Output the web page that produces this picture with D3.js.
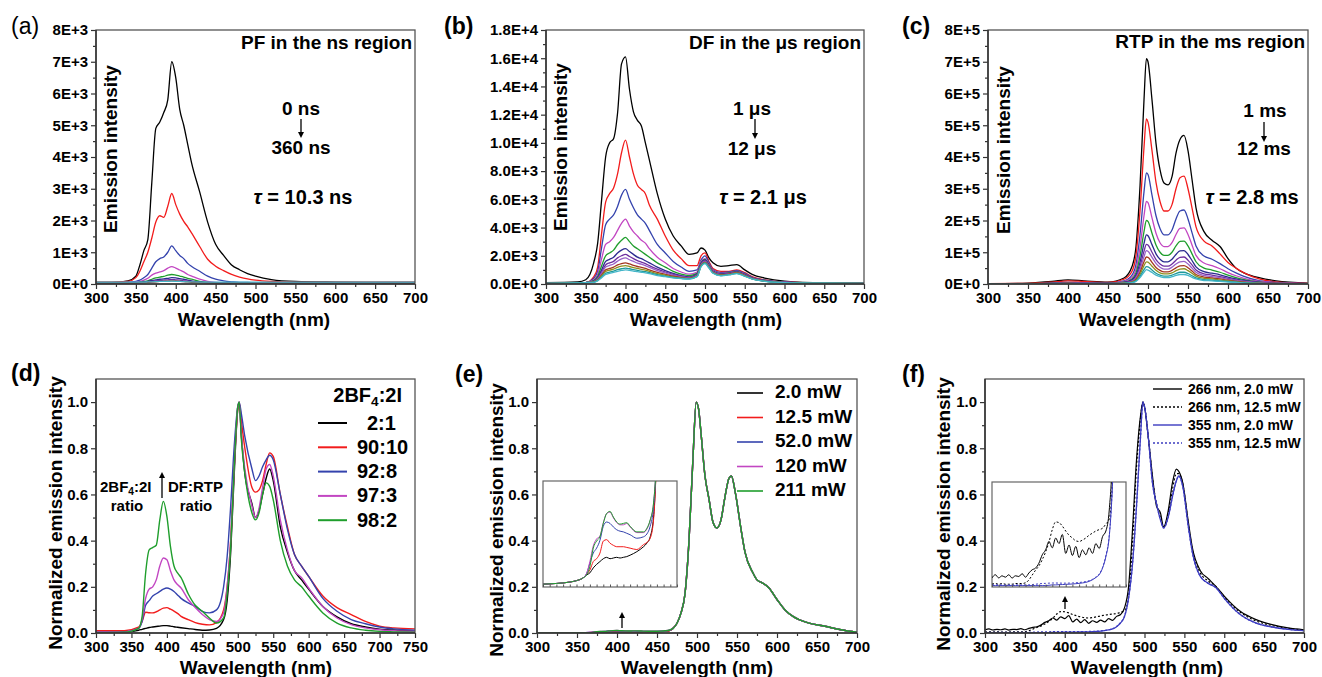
<!DOCTYPE html>
<html>
<head>
<meta charset="utf-8">
<script src="https://cdn.jsdelivr.net/npm/d3@7"></script>
<style>
  body { margin: 0; background: #fff; }
  text { font-family: "Liberation Sans", Arial, sans-serif; }
</style>
</head>
<body>
<svg id="fig" width="1322" height="677"></svg>
<script>
// ---------- (a) PF in the ns region, intensity in units of 1E+3 ----------
var wlA = [300,320,340,350,355, 360,365,370,375,380, 385,390,395,400,405,
           410,415,420,430,440, 450,460,470,480,490, 500,520,550,600,650, 700];
var aBlack   = [0.05,0.05,0.1,0.25,0.6, 1.05,1.4,3.2,4.9,5.1, 5.4,5.8,7.0,6.5,5.5, 5.0,4.4,3.8,2.9,1.95, 1.25,0.9,0.6,0.45,0.33, 0.25,0.14,0.08,0.06,0.05, 0.05];
var aRed     = [0.06,0.06,0.08,0.2,0.4, 0.7,1.0,1.45,1.95,2.15, 2.1,2.45,2.85,2.5,2.2, 1.97,1.8,1.6,1.18,0.78, 0.56,0.42,0.3,0.22,0.16, 0.12,0.08,0.06,0.06,0.06, 0.06];
var aBlue    = [0.04,0.04,0.05,0.08,0.12, 0.2,0.3,0.5,0.7,0.8, 0.85,1.0,1.2,1.05,0.9, 0.8,0.65,0.55,0.4,0.25, 0.15,0.1,0.07,0.05,0.05, 0.04,0.04,0.04,0.04,0.04, 0.04];
var aMagenta = [0.04,0.04,0.04,0.06,0.08, 0.12,0.18,0.28,0.34,0.38, 0.42,0.5,0.55,0.5,0.44, 0.38,0.3,0.25,0.15,0.08, 0.05,0.04,0.04,0.04,0.04, 0.04,0.04,0.04,0.04,0.04, 0.04];
var aGreen   = [0.03,0.03,0.03,0.04,0.06, 0.08,0.1,0.15,0.19,0.22, 0.24,0.28,0.3,0.28,0.25, 0.22,0.18,0.15,0.08,0.05, 0.04,0.03,0.03,0.03,0.03, 0.03,0.03,0.03,0.03,0.03, 0.03];
var aNavy    = [0.03,0.03,0.03,0.04,0.05, 0.06,0.08,0.11,0.13,0.15, 0.16,0.18,0.2,0.19,0.17, 0.15,0.12,0.1,0.06,0.04, 0.03,0.03,0.03,0.03,0.03, 0.03,0.03,0.03,0.03,0.03, 0.03];
var aPurple  = [0.03,0.03,0.03,0.03,0.04, 0.05,0.06,0.08,0.1,0.11, 0.12,0.13,0.14,0.13,0.12, 0.1,0.09,0.07,0.05,0.04, 0.03,0.03,0.03,0.03,0.03, 0.03,0.03,0.03,0.03,0.03, 0.03];
var aWine    = [0.03,0.03,0.03,0.03,0.035, 0.04,0.05,0.06,0.07,0.08, 0.085,0.09,0.1,0.095,0.085, 0.075,0.065,0.055,0.04,0.035, 0.03,0.03,0.03,0.03,0.03, 0.03,0.03,0.03,0.03,0.03, 0.03];
var aCyan    = [0.06,0.06,0.06,0.06,0.06, 0.06,0.065,0.07,0.075,0.08, 0.08,0.085,0.09,0.085,0.08, 0.075,0.07,0.065,0.06,0.06, 0.06,0.06,0.06,0.06,0.06, 0.06,0.06,0.06,0.06,0.06, 0.06];

// ---------- (b) DF in the us region, units of 1E+3 ----------
var wlB = [300,340,350,360,365, 370,375,380,385,390, 395,400,405,410,415, 420,425,430,440,450,
           460,470,480,490,495, 500,505,510,520,530, 540,550,560,575,600, 650,700];
var bBlack    = [0.1,0.15,0.3,1.5,2.9, 6.0,9.0,10.0,10.3,12.1, 15.6,16.1,13.8,12.2,11.6, 11.2,10.0,8.8,6.4,4.6, 3.4,2.7,2.1,2.2,2.55, 2.4,1.85,1.5,1.25,1.3, 1.37,1.0,0.66,0.42,0.2, 0.07,0.05];
var bRed      = [0.05,0.08,0.1,0.5,1.2, 3.6,5.8,6.4,6.8,7.8, 9.3,10.2,9.0,7.8,7.0, 6.7,6.4,5.6,4.6,3.4, 2.4,1.8,1.3,1.3,2.0, 2.2,1.6,1.1,0.9,0.9, 1.0,0.8,0.5,0.3,0.15, 0.06,0.05];
var bBlue     = [0.05,0.07,0.1,0.4,0.9, 2.6,4.2,4.6,4.9,5.5, 6.3,6.7,6.0,5.4,4.9, 4.6,4.3,3.8,2.8,2.2, 1.6,1.2,0.9,1.0,1.7, 2.0,1.5,1.0,0.8,0.85, 0.95,0.75,0.45,0.28,0.14, 0.06,0.05];
var bMagenta  = [0.05,0.07,0.1,0.3,0.7, 1.8,2.8,3.0,3.3,3.8, 4.3,4.6,4.1,3.7,3.4, 3.1,2.9,2.5,1.9,1.5, 1.1,0.85,0.7,0.85,1.6, 1.8,1.4,0.95,0.75,0.8, 0.9,0.7,0.42,0.26,0.13, 0.06,0.05];
var bGreen    = [0.05,0.07,0.1,0.25,0.55, 1.3,2.0,2.2,2.4,2.8, 3.1,3.3,3.0,2.7,2.5, 2.3,2.1,1.9,1.5,1.2, 0.9,0.7,0.6,0.75,1.5, 1.75,1.35,0.9,0.72,0.78, 0.88,0.68,0.4,0.25,0.12, 0.06,0.05];
var bNavy     = [0.05,0.07,0.1,0.2,0.45, 1.0,1.6,1.75,1.9,2.2, 2.4,2.5,2.3,2.1,1.9, 1.8,1.65,1.5,1.2,0.95, 0.75,0.6,0.5,0.7,1.45, 1.7,1.3,0.88,0.7,0.76, 0.86,0.66,0.4,0.24,0.12, 0.06,0.05];
var bPurple   = [0.05,0.07,0.1,0.18,0.4, 0.85,1.35,1.5,1.6,1.85, 2.0,2.1,1.95,1.8,1.65, 1.55,1.45,1.3,1.05,0.85, 0.68,0.55,0.46,0.66,1.4, 1.65,1.28,0.86,0.68,0.74, 0.84,0.64,0.39,0.23,0.11, 0.06,0.05];
var bViolet   = [0.05,0.07,0.1,0.16,0.35, 0.75,1.2,1.32,1.42,1.62, 1.78,1.85,1.72,1.6,1.48, 1.4,1.3,1.18,0.95,0.78, 0.62,0.5,0.43,0.62,1.35, 1.6,1.25,0.84,0.66,0.72, 0.82,0.62,0.38,0.22,0.11, 0.06,0.05];
var bWine     = [0.05,0.07,0.1,0.15,0.3, 0.65,1.0,1.1,1.2,1.35, 1.45,1.5,1.42,1.32,1.24, 1.18,1.1,1.0,0.82,0.68, 0.55,0.45,0.4,0.58,1.3, 1.55,1.2,0.82,0.64,0.7, 0.8,0.6,0.37,0.21,0.1, 0.06,0.05];
var bOlive    = [0.05,0.07,0.1,0.14,0.28, 0.58,0.88,0.98,1.05,1.18, 1.26,1.3,1.24,1.16,1.1, 1.04,0.98,0.9,0.74,0.62, 0.5,0.42,0.38,0.56,1.28, 1.52,1.18,0.8,0.62,0.68, 0.78,0.58,0.36,0.2,0.1, 0.06,0.05];
var bDarkCyan = [0.05,0.07,0.1,0.13,0.25, 0.5,0.76,0.85,0.92,1.02, 1.08,1.12,1.08,1.02,0.96, 0.92,0.87,0.8,0.66,0.56, 0.46,0.4,0.36,0.54,1.25, 1.5,1.16,0.78,0.6,0.66, 0.76,0.56,0.35,0.2,0.1, 0.06,0.05];
var bCyan     = [0.05,0.07,0.1,0.12,0.22, 0.45,0.68,0.76,0.82,0.9, 0.96,1.0,0.96,0.92,0.87, 0.83,0.79,0.73,0.6,0.52, 0.43,0.38,0.35,0.52,1.22, 1.45,1.12,0.76,0.58,0.64, 0.74,0.55,0.34,0.19,0.1, 0.06,0.05];

// ---------- (c) RTP in the ms region, units of 1E+5 ----------
var wlC = [300,350,380,400,420, 450,470,480,485,490, 495,498,500,505,510, 515,520,525,530,535,
           540,545,550,555,560, 570,580,590,600,610, 620,640,660,700];
var cBlack    = [0.01,0.03,0.08,0.13,0.1, 0.06,0.19,0.55,1.18,3.07, 5.8,7.1,7.0,5.8,4.43, 3.6,3.18,3.12,3.38,4.12, 4.55,4.68,4.2,3.3,2.4, 1.65,1.38,1.18,0.8,0.5, 0.35,0.19,0.1,0.03];
var cRed      = [0.01,0.02,0.06,0.1,0.08, 0.05,0.15,0.4,0.9,2.3, 4.3,5.2,5.1,4.2,3.2, 2.6,2.3,2.3,2.5,3.0, 3.35,3.4,3.0,2.4,1.8, 1.35,1.2,0.95,0.68,0.5, 0.35,0.15,0.07,0.02];
var cBlue     = [0.005,0.01,0.03,0.05,0.04, 0.03,0.1,0.28,0.62,1.55, 2.9,3.5,3.45,2.8,2.15, 1.75,1.55,1.55,1.7,2.05, 2.3,2.33,2.05,1.62,1.2, 0.88,0.78,0.64,0.48,0.35, 0.24,0.1,0.05,0.01];
var cMagenta  = [0.005,0.01,0.02,0.04,0.03, 0.02,0.08,0.21,0.46,1.15, 2.15,2.6,2.56,2.08,1.6, 1.3,1.18,1.18,1.3,1.56, 1.75,1.77,1.56,1.23,0.9, 0.66,0.58,0.48,0.36,0.26, 0.18,0.08,0.04,0.01];
var cGreen    = [0.005,0.01,0.02,0.03,0.02, 0.02,0.06,0.16,0.35,0.88, 1.65,2.0,1.97,1.6,1.23, 1.0,0.9,0.9,1.0,1.2, 1.34,1.35,1.2,0.95,0.7, 0.5,0.44,0.37,0.28,0.2, 0.14,0.06,0.03,0.01];
var cNavy     = [0.005,0.01,0.015,0.025,0.02, 0.015,0.05,0.13,0.28,0.68, 1.28,1.55,1.52,1.24,0.95, 0.78,0.7,0.7,0.78,0.93, 1.04,1.05,0.93,0.74,0.54, 0.39,0.34,0.29,0.22,0.16, 0.11,0.05,0.02,0.01];
var cPurple   = [0.005,0.01,0.01,0.02,0.015, 0.01,0.04,0.1,0.22,0.55, 1.03,1.25,1.23,1.0,0.77, 0.63,0.56,0.56,0.63,0.75, 0.84,0.85,0.75,0.6,0.44, 0.32,0.28,0.23,0.18,0.13, 0.09,0.04,0.02,0.01];
var cViolet   = [0.005,0.01,0.01,0.02,0.015, 0.01,0.035,0.085,0.19,0.46, 0.86,1.05,1.03,0.84,0.65, 0.53,0.47,0.47,0.53,0.63, 0.7,0.71,0.63,0.5,0.37, 0.27,0.23,0.2,0.15,0.11, 0.08,0.035,0.02,0.01];
var cWine     = [0.005,0.01,0.01,0.015,0.01, 0.01,0.03,0.07,0.15,0.37, 0.7,0.85,0.84,0.68,0.52, 0.43,0.38,0.38,0.43,0.51, 0.57,0.58,0.51,0.41,0.3, 0.22,0.19,0.16,0.12,0.09, 0.06,0.03,0.015,0.01];
var cOlive    = [0.005,0.01,0.01,0.015,0.01, 0.01,0.025,0.06,0.12,0.3, 0.58,0.7,0.69,0.56,0.43, 0.35,0.32,0.32,0.35,0.42, 0.47,0.48,0.42,0.34,0.25, 0.18,0.16,0.13,0.1,0.07, 0.05,0.02,0.01,0.01];
var cDarkCyan = [0.005,0.01,0.01,0.01,0.01, 0.01,0.02,0.05,0.1,0.24, 0.45,0.55,0.54,0.44,0.34, 0.28,0.25,0.25,0.28,0.33, 0.37,0.37,0.33,0.26,0.19, 0.14,0.12,0.1,0.08,0.06, 0.04,0.02,0.01,0.01];
var cCyan     = [0.005,0.01,0.01,0.01,0.01, 0.01,0.015,0.04,0.08,0.2, 0.37,0.45,0.44,0.36,0.28, 0.23,0.2,0.2,0.23,0.27, 0.3,0.3,0.27,0.21,0.16, 0.11,0.1,0.08,0.06,0.05, 0.03,0.015,0.01,0.01];

// ---------- (d) normalized, 2BF4:2I ratio ----------
var wlD = [300,340,360,365,370, 375,380,385,390,395, 400,405,410,415,420, 430,440,450,460,470,
           480,485,490,495,500, 502,505,510,520,525, 530,535,540,545,550, 560,570,580,590,600,
           620,640,660,680,700, 720,750];
var d21   = [0.002,0.004,0.012,0.016,0.02, 0.024,0.026,0.028,0.03,0.032, 0.032,0.03,0.027,0.025,0.023, 0.019,0.015,0.012,0.013,0.02, 0.058,0.14,0.35,0.69,0.97, 1.0,0.86,0.69,0.56,0.5, 0.53,0.6,0.67,0.71,0.66, 0.46,0.35,0.27,0.23,0.19, 0.115,0.07,0.04,0.026,0.017, 0.013,0.01];
var d9010 = [0.01,0.01,0.025,0.05,0.09, 0.088,0.087,0.092,0.1,0.108, 0.11,0.103,0.095,0.085,0.072, 0.058,0.045,0.038,0.035,0.045, 0.1,0.2,0.4,0.72,0.97, 1.0,0.92,0.8,0.63,0.61, 0.62,0.66,0.73,0.78,0.765, 0.6,0.46,0.34,0.29,0.245, 0.16,0.11,0.08,0.05,0.03, 0.022,0.018];
var d928  = [0.003,0.005,0.02,0.05,0.12, 0.14,0.16,0.17,0.18,0.19, 0.195,0.19,0.18,0.165,0.15, 0.13,0.115,0.094,0.087,0.1, 0.2,0.33,0.55,0.81,0.98, 1.0,0.95,0.85,0.71,0.66, 0.68,0.72,0.75,0.77,0.75, 0.6,0.45,0.34,0.29,0.245, 0.15,0.094,0.058,0.04,0.026, 0.018,0.012];
var d973  = [0.002,0.004,0.02,0.06,0.15, 0.19,0.2,0.23,0.29,0.325, 0.317,0.27,0.23,0.21,0.195, 0.145,0.11,0.08,0.058,0.05, 0.087,0.2,0.4,0.72,0.98, 1.0,0.86,0.71,0.55,0.5, 0.54,0.63,0.71,0.73,0.68, 0.49,0.36,0.27,0.24,0.195, 0.115,0.065,0.036,0.022,0.014, 0.01,0.007];
var d982  = [0.001,0.003,0.02,0.07,0.26, 0.36,0.37,0.38,0.49,0.57, 0.505,0.375,0.29,0.26,0.24, 0.17,0.12,0.094,0.065,0.043, 0.065,0.17,0.375,0.72,0.98, 1.0,0.84,0.69,0.52,0.49, 0.52,0.6,0.65,0.635,0.577, 0.4,0.29,0.23,0.2,0.16, 0.087,0.043,0.022,0.012,0.007, 0.005,0.003];
var dLabels = ["2:1", "90:10", "92:8", "97:3", "98:2"];

// ---------- (e) normalized, laser power ----------
var eLowWl = [300,320,340,350,360, 365,370,375,380,385, 390,395,400,405,410, 415,420,425,430,440, 450,455,460,465];
var eLow20  = [0.0004,0.0005,0.0007,0.0009,0.0013, 0.0017,0.002,0.0027,0.0032,0.0036, 0.004,0.0042,0.004,0.0041,0.0042, 0.0041,0.0042,0.0043,0.0045,0.005, 0.0057,0.0062,0.0071,0.0099];
var eLow125 = [0.0004,0.0005,0.0007,0.0009,0.0013, 0.0018,0.0024,0.0036,0.004,0.0048, 0.0065,0.0067,0.0062,0.0059,0.0057, 0.0057,0.0057,0.0056,0.0055,0.0053, 0.006,0.0063,0.0069,0.0095];
var eLow520 = [0.0004,0.0005,0.0007,0.0009,0.0013, 0.0019,0.0034,0.0048,0.0055,0.0066, 0.0086,0.0092,0.009,0.0085,0.0081, 0.0079,0.0078,0.0076,0.0074,0.0069, 0.0071,0.0075,0.0086,0.0113];
var eLow120 = [0.0004,0.0005,0.0007,0.0009,0.0013, 0.0019,0.0036,0.0058,0.0068,0.0072, 0.0091,0.0104,0.0106,0.0098,0.0091, 0.0088,0.0088,0.009,0.0085,0.0077, 0.0077,0.0082,0.0094,0.0118];
var eLow211 = [0.0004,0.0005,0.0007,0.0009,0.0013, 0.0017,0.0029,0.0055,0.0065,0.0071, 0.009,0.0104,0.0107,0.0099,0.0092, 0.0089,0.009,0.0091,0.0086,0.0078, 0.0078,0.0083,0.0095,0.0119];
var eTailWl = [470,475,480,485,490, 495,499,502,505,510, 515,520,525,530,535, 540,543,548,555,560, 570,575,580,590,600, 610,620,640,660,680, 700];
var eTail   = [0.02,0.042,0.087,0.17,0.4, 0.76,1.0,0.97,0.866,0.68, 0.58,0.48,0.455,0.49,0.59, 0.67,0.68,0.606,0.45,0.35, 0.26,0.23,0.22,0.195,0.145, 0.1,0.072,0.043,0.029,0.014, 0.003];
var eLabels = ["2.0 mW", "12.5 mW", "52.0 mW", "120 mW", "211 mW"];

// ---------- (f) normalized, excitation wavelength ----------
var fLowWl = [300,305,310,315,320, 325,330,335,340,345, 350,355,360,365,370, 375,380,385,390,395,
              400,405,410,415,420, 425,430,435,440,445, 450,455,460,465,470, 475,480];
var fLow266a = [0.013,0.0175,0.013,0.016,0.014, 0.0175,0.0128,0.016,0.015,0.019, 0.014,0.02,0.0246,0.027,0.034, 0.046,0.053,0.065,0.056,0.07, 0.062,0.075,0.048,0.06,0.045, 0.058,0.042,0.053,0.046,0.056, 0.048,0.062,0.055,0.072,0.08, 0.11,0.2];
var fLow266b = [0.004,0.005,0.004,0.005,0.004, 0.004,0.004,0.005,0.005,0.005, 0.006,0.01,0.017,0.024,0.03, 0.039,0.05,0.064,0.082,0.093, 0.092,0.087,0.08,0.074,0.07, 0.066,0.065,0.067,0.07,0.074, 0.077,0.08,0.082,0.084,0.09, 0.097,0.16];
var fLow355a = [0.002,0.002,0.002,0.002,0.002, 0.002,0.002,0.002,0.002,0.002, 0.002,0.002,0.002,0.002,0.002, 0.002,0.002,0.0025,0.003,0.003, 0.0033,0.0035,0.0038,0.004,0.0043, 0.0047,0.0052,0.0058,0.0066,0.008, 0.0104,0.0135,0.0175,0.027,0.0435, 0.072,0.15];
var fLow355b = [0.003,0.003,0.003,0.003,0.003, 0.003,0.003,0.003,0.003,0.003, 0.003,0.003,0.0035,0.004,0.0045, 0.005,0.0052,0.0055,0.0057,0.0057, 0.0056,0.0055,0.0055,0.0056,0.0058, 0.006,0.0064,0.007,0.0078,0.009, 0.011,0.0142,0.0185,0.028,0.045, 0.074,0.15];
var fTailWl = [485,490,495,498,500, 505,510,515,520,524, 530,535,540,543,548, 555,560,570,580,590, 600,620,640,660,680, 700];
var fTail266a = [0.45,0.75,0.94,1.0,0.98, 0.84,0.68,0.55,0.52,0.46, 0.535,0.65,0.71,0.7,0.65, 0.48,0.37,0.27,0.235,0.2, 0.16,0.094,0.058,0.036,0.022, 0.014];
var fTail266b = [0.4,0.72,0.93,1.0,0.98, 0.84,0.67,0.56,0.5,0.46, 0.52,0.62,0.69,0.69,0.645, 0.47,0.36,0.26,0.225,0.2, 0.155,0.09,0.052,0.032,0.02, 0.012];
var fTail355  = [0.3,0.55,0.85,1.0,0.98, 0.84,0.65,0.56,0.49,0.455, 0.505,0.59,0.66,0.68,0.635, 0.46,0.35,0.245,0.215,0.195, 0.15,0.08,0.043,0.026,0.016, 0.01];
var fLabels = ["266 nm, 2.0 mW", "266 nm, 12.5 mW", "355 nm, 2.0 mW", "355 nm, 12.5 mW"];

// tick values
var xTicks700 = [300,350,400,450,500,550,600,650,700];
var xTicks750 = [300,350,400,450,500,550,600,650,700,750];
var yTicksA = [0,1,2,3,4,5,6,7,8];
var yTicksB = [0,2,4,6,8,10,12,14,16,18];
var yTicksN = [0,0.2,0.4,0.6,0.8,1.0];

// palette (Origin-like)
var col = {
  black: "#000000", red: "#f21c1c", blue: "#3443ad", magenta: "#c246c2", green: "#1f9e2c",
  navy: "#2b2b8f", purple: "#6e2fa0", violet: "#9860c8", wine: "#a3361f", olive: "#8f8f1f",
  darkcyan: "#1f9a9a", cyan: "#45b6c9", blue2: "#3c3cc0"
};

var svg = d3.select("#fig");

function txt(g, x, y, s, size, anchor, weight) {
  return g.append("text").attr("x", x).attr("y", y).text(s)
    .attr("font-size", size).attr("text-anchor", anchor || "start")
    .attr("font-weight", weight || "bold").attr("fill", "#000");
}

function arrow(g, x, y1, y2) {
  // shaft from y1 to y2, head at y2
  var dir = y2 > y1 ? 1 : -1;
  g.append("line").attr("x1", x).attr("x2", x).attr("y1", y1).attr("y2", y2 - dir * 5)
    .attr("stroke", "#000").attr("stroke-width", 1.3);
  g.append("path").attr("d", "M" + (x - 3) + "," + (y2 - dir * 6) + "L" + (x + 3) + "," + (y2 - dir * 6) + "L" + x + "," + y2 + "Z")
    .attr("fill", "#000");
}

function styleAxis(sel) {
  sel.select(".domain").remove();
  sel.selectAll(".tick line").attr("stroke", "#333").attr("stroke-width", 1.2);
  sel.selectAll(".tick text").attr("font-size", 15).attr("font-weight", "bold")
    .attr("fill", "#000").attr("font-family", "'Liberation Sans', Arial, sans-serif");
}

function panel(p) {
  var b = p.box;
  var g = svg.append("g");
  var x = d3.scaleLinear().domain(p.xDomain).range([b.l, b.r]);
  var y = d3.scaleLinear().domain(p.yDomain).range([b.b, b.t]);

  g.append("clipPath").attr("id", "clip-" + p.id).append("rect")
    .attr("x", b.l).attr("y", b.t).attr("width", b.r - b.l).attr("height", b.b - b.t);

  var line = d3.line().x(function(d) { return x(d[0]); }).y(function(d) { return y(d[1]); })
    .curve(d3.curveMonotoneX);
  var plot = g.append("g").attr("clip-path", "url(#clip-" + p.id + ")");
  p.series.forEach(function(s) {
    plot.append("path").datum(d3.zip(s.wl, s.v))
      .attr("fill", "none").attr("stroke", s.color)
      .attr("stroke-width", s.w || 1.3)
      .attr("stroke-dasharray", s.dash || null)
      .attr("d", line);
  });

  // minor ticks
  var xs = p.xTicks[1] - p.xTicks[0];
  var xMinor = p.xTicks.slice(0, -1).map(function(t) { return t + xs / 2; });
  var ys = p.yTicks[1] - p.yTicks[0];
  var yMinor = p.yTicks.map(function(t) { return t + ys / 2; }).filter(function(t) { return t < p.yDomain[1]; });

  g.append("g").attr("transform", "translate(0," + b.b + ")")
    .call(d3.axisBottom(x).tickValues(xMinor).tickSize(3).tickFormat("")).call(styleAxis);
  g.append("g").attr("transform", "translate(0," + b.b + ")")
    .call(d3.axisBottom(x).tickValues(p.xTicks).tickSize(5).tickPadding(3).tickFormat(d3.format("d")))
    .call(styleAxis);
  g.append("g").attr("transform", "translate(" + b.l + ",0)")
    .call(d3.axisLeft(y).tickValues(yMinor).tickSize(3).tickFormat("")).call(styleAxis);
  g.append("g").attr("transform", "translate(" + b.l + ",0)")
    .call(d3.axisLeft(y).tickValues(p.yTicks).tickSize(5).tickPadding(3).tickFormat(p.yFormat))
    .call(styleAxis);

  // frame
  g.append("rect").attr("x", b.l).attr("y", b.t).attr("width", b.r - b.l).attr("height", b.b - b.t)
    .attr("fill", "none").attr("stroke", "#555").attr("stroke-width", 1.3);
  g.append("path").attr("d", "M" + b.l + "," + b.t + "V" + b.b + "H" + b.r)
    .attr("fill", "none").attr("stroke", "#333").attr("stroke-width", 1.5);

  // titles
  txt(g, p.xTitle[0], p.xTitle[1], "Wavelength (nm)", 19, "middle");
  g.append("text").attr("transform", "translate(" + p.yTitle[0] + "," + p.yTitle[1] + ") rotate(-90)")
    .attr("dy", "0.35em").attr("text-anchor", "middle").attr("font-size", 19)
    .attr("font-weight", "bold").text(p.yTitleText);
  txt(g, p.label[0], p.label[1], p.label[2], 23, "start", p.label[3] || "bold");

  return { g: g, x: x, y: y, line: line };
}

function inset(p) {
  var b = p.box;
  var g = svg.append("g");
  var x = d3.scaleLinear().domain(p.xDomain).range([b.l, b.r]);
  var y = d3.scaleLinear().domain(p.yDomain).range([b.b, b.t]);
  g.append("rect").attr("x", b.l).attr("y", b.t).attr("width", b.r - b.l).attr("height", b.b - b.t)
    .attr("fill", "#fff").attr("stroke", "#666").attr("stroke-width", 1.2);
  g.append("clipPath").attr("id", "clip-" + p.id).append("rect")
    .attr("x", b.l).attr("y", b.t).attr("width", b.r - b.l).attr("height", b.b - b.t);
  var line = d3.line().x(function(d) { return x(d[0]); }).y(function(d) { return y(d[1]); })
    .curve(d3.curveMonotoneX);
  var plot = g.append("g").attr("clip-path", "url(#clip-" + p.id + ")");
  p.series.forEach(function(s) {
    plot.append("path").datum(d3.zip(s.wl, s.v))
      .attr("fill", "none").attr("stroke", s.color).attr("stroke-width", s.w || 1)
      .attr("stroke-dasharray", s.dash || null).attr("d", line);
  });
  // small inward ticks along the bottom
  var ax = g.append("g").attr("transform", "translate(0," + b.b + ")")
    .call(d3.axisTop(x).ticks(20).tickSize(2.5).tickFormat(""));
  ax.select(".domain").remove();
  ax.selectAll(".tick line").attr("stroke", "#555");
}

// ---------- (a) ----------
var pa = panel({
  id: "a", box: { l: 96, t: 30, r: 415, b: 284 },
  xDomain: [300, 700], yDomain: [0, 8], xTicks: xTicks700, yTicks: yTicksA,
  yFormat: function(d) { return d === 0 ? "0E+0" : d + "E+3"; },
  xTitle: [254, 326], yTitle: [110, 149], yTitleText: "Emission intensity",
  label: [11, 34, "(a)", "normal"],
  series: [
    { wl: wlA, v: aBlack, color: col.black }, { wl: wlA, v: aRed, color: col.red },
    { wl: wlA, v: aBlue, color: col.blue }, { wl: wlA, v: aMagenta, color: col.magenta },
    { wl: wlA, v: aGreen, color: col.green }, { wl: wlA, v: aNavy, color: col.navy },
    { wl: wlA, v: aPurple, color: col.purple }, { wl: wlA, v: aWine, color: col.wine },
    { wl: wlA, v: aCyan, color: col.cyan }
  ]
});
txt(pa.g, 412, 49, "PF in the ns region", 19, "end");
txt(pa.g, 301, 115, "0 ns", 19, "middle");
arrow(pa.g, 301, 119, 138);
txt(pa.g, 301, 154, "360 ns", 19, "middle");
var ta = txt(pa.g, 303, 204, "", 20, "middle");
ta.append("tspan").attr("font-style", "italic").text("τ");
ta.append("tspan").text(" = 10.3 ns");

// ---------- (b) ----------
var pb = panel({
  id: "b", box: { l: 546, t: 30, r: 864, b: 284 },
  xDomain: [300, 700], yDomain: [0, 18], xTicks: xTicks700, yTicks: yTicksB,
  yFormat: function(d) {
    if (d === 0) return "0.0E+0";
    return d >= 10 ? (d / 10).toFixed(1) + "E+4" : d.toFixed(1) + "E+3";
  },
  xTitle: [706, 326], yTitle: [560, 147], yTitleText: "Emission intensity",
  label: [444, 34, "(b)"],
  series: [
    { wl: wlB, v: bBlack, color: col.black }, { wl: wlB, v: bRed, color: col.red },
    { wl: wlB, v: bBlue, color: col.blue }, { wl: wlB, v: bMagenta, color: col.magenta },
    { wl: wlB, v: bGreen, color: col.green }, { wl: wlB, v: bNavy, color: col.navy },
    { wl: wlB, v: bPurple, color: col.purple }, { wl: wlB, v: bViolet, color: col.violet },
    { wl: wlB, v: bWine, color: col.wine }, { wl: wlB, v: bOlive, color: col.olive },
    { wl: wlB, v: bDarkCyan, color: col.darkcyan }, { wl: wlB, v: bCyan, color: col.cyan }
  ]
});
txt(pb.g, 861, 49, "DF in the μs region", 19, "end");
txt(pb.g, 752, 115, "1 μs", 19, "middle");
arrow(pb.g, 755, 119, 139);
txt(pb.g, 752, 155, "12 μs", 19, "middle");
var tb = txt(pb.g, 763, 204, "", 20, "middle");
tb.append("tspan").attr("font-style", "italic").text("τ");
tb.append("tspan").text(" = 2.1 μs");

// ---------- (c) ----------
var pc = panel({
  id: "c", box: { l: 988, t: 30, r: 1308, b: 284 },
  xDomain: [300, 700], yDomain: [0, 8], xTicks: xTicks700, yTicks: yTicksA,
  yFormat: function(d) { return d === 0 ? "0E+0" : d + "E+5"; },
  xTitle: [1155, 326], yTitle: [1003, 150], yTitleText: "Emission intensity",
  label: [902, 34, "(c)"],
  series: [
    { wl: wlC, v: cBlack, color: col.black }, { wl: wlC, v: cRed, color: col.red },
    { wl: wlC, v: cBlue, color: col.blue }, { wl: wlC, v: cMagenta, color: col.magenta },
    { wl: wlC, v: cGreen, color: col.green }, { wl: wlC, v: cNavy, color: col.navy },
    { wl: wlC, v: cPurple, color: col.purple }, { wl: wlC, v: cViolet, color: col.violet },
    { wl: wlC, v: cWine, color: col.wine }, { wl: wlC, v: cOlive, color: col.olive },
    { wl: wlC, v: cDarkCyan, color: col.darkcyan }, { wl: wlC, v: cCyan, color: col.cyan }
  ]
});
txt(pc.g, 1305, 48, "RTP in the ms region", 19, "end");
txt(pc.g, 1265, 117, "1 ms", 19, "middle");
arrow(pc.g, 1264, 122, 142);
txt(pc.g, 1264, 155, "12 ms", 19, "middle");
var tc = txt(pc.g, 1252, 204, "", 20, "middle");
tc.append("tspan").attr("font-style", "italic").text("τ");
tc.append("tspan").text(" = 2.8 ms");

// ---------- (d) ----------
var dColors = [col.black, col.red, col.blue, col.magenta, col.green];
var dData = [d21, d9010, d928, d973, d982];
var pd = panel({
  id: "d", box: { l: 96, t: 379, r: 415, b: 633 },
  xDomain: [300, 750], yDomain: [0, 1.1], xTicks: xTicks750, yTicks: yTicksN,
  yFormat: d3.format(".1f"),
  xTitle: [256, 674], yTitle: [55, 513], yTitleText: "Normalized emission intensity",
  label: [11, 381, "(d)"],
  series: dData.map(function(v, i) { return { wl: wlD, v: v, color: dColors[i], w: 1.4 }; })
});
function bf4(g, x, y, size, anchor) {
  var t = txt(g, x, y, "", size, anchor);
  t.append("tspan").text("2BF");
  t.append("tspan").attr("font-size", size * 0.68).attr("dy", size * 0.22).text("4");
  t.append("tspan").attr("dy", -size * 0.22).text(":2I");
  return t;
}
bf4(pd.g, 402, 402, 20, "end");
dLabels.forEach(function(lab, i) {
  var yy = 423 + i * 24.3;
  pd.g.append("line").attr("x1", 318).attr("x2", 347).attr("y1", yy).attr("y2", yy)
    .attr("stroke", dColors[i]).attr("stroke-width", 2);
  txt(pd.g, i === 0 ? 367 : 357, yy + 6.5, lab, 20, "start");
});
bf4(pd.g, 100, 492, 15, "start");
txt(pd.g, 127, 511, "ratio", 15, "middle");
txt(pd.g, 168, 492, "DF:RTP", 15, "start");
txt(pd.g, 196, 511, "ratio", 15, "middle");
arrow(pd.g, 162, 498, 472);

// ---------- (e) ----------
var eColors = [col.black, col.red, col.blue, col.magenta, col.green];
var eLows = [eLow20, eLow125, eLow520, eLow120, eLow211];
var eSeries = eLows.map(function(v, i) {
  return { wl: eLowWl.concat(eTailWl), v: v.concat(eTail), color: eColors[i], w: 1.4 };
});
var pe = panel({
  id: "e", box: { l: 537, t: 379, r: 857, b: 633 },
  xDomain: [300, 700], yDomain: [0, 1.1], xTicks: xTicks700, yTicks: yTicksN,
  yFormat: d3.format(".1f"),
  xTitle: [697, 674], yTitle: [496, 520], yTitleText: "Normalized emission intensity",
  label: [455, 382, "(e)"],
  series: eSeries
});
eLabels.forEach(function(lab, i) {
  var yy = 393 + i * 24.5;
  pe.g.append("line").attr("x1", 737).attr("x2", 763).attr("y1", yy).attr("y2", yy)
    .attr("stroke", eColors[i]).attr("stroke-width", 1.6);
  txt(pe.g, 775, yy + 5, lab, 19, "start");
});
arrow(pe.g, 622, 628, 612);
inset({
  id: "ei", box: { l: 543, t: 481, r: 677, b: 587 },
  xDomain: [300, 500], yDomain: [0, 0.015],
  series: eSeries.map(function(s) { return { wl: s.wl, v: s.v, color: s.color, w: 1 }; })
});

// ---------- (f) ----------
var fSeries = [
  { wl: fLowWl.concat(fTailWl), v: fLow266a.concat(fTail266a), color: col.black, w: 1.2 },
  { wl: fLowWl.concat(fTailWl), v: fLow266b.concat(fTail266b), color: col.black, w: 1.2, dash: "2,2" },
  { wl: fLowWl.concat(fTailWl), v: fLow355a.concat(fTail355), color: col.blue2, w: 1.3 },
  { wl: fLowWl.concat(fTailWl), v: fLow355b.concat(fTail355), color: col.blue2, w: 1.3, dash: "2,2" }
];
var pf = panel({
  id: "f", box: { l: 985, t: 379, r: 1304, b: 633 },
  xDomain: [300, 700], yDomain: [0, 1.1], xTicks: xTicks700, yTicks: yTicksN,
  yFormat: d3.format(".1f"),
  xTitle: [1147, 674], yTitle: [943, 514], yTitleText: "Normalized emission intensity",
  label: [902, 382, "(f)"],
  series: fSeries
});
fLabels.forEach(function(lab, i) {
  var yy = 389 + i * 18;
  pf.g.append("line").attr("x1", 1153).attr("x2", 1182).attr("y1", yy).attr("y2", yy)
    .attr("stroke", fSeries[i].color).attr("stroke-width", 1.4)
    .attr("stroke-dasharray", fSeries[i].dash || null);
  txt(pf.g, 1188, yy + 5, lab, 14, "start");
});
arrow(pf.g, 1065, 609, 596);
inset({
  id: "fi", box: { l: 992, t: 482, r: 1126, b: 587 },
  xDomain: [300, 500], yDomain: [0, 0.15],
  series: fSeries.map(function(s) { return { wl: s.wl, v: s.v, color: s.color, w: 1, dash: s.dash }; })
});
</script>
</body>
</html>
